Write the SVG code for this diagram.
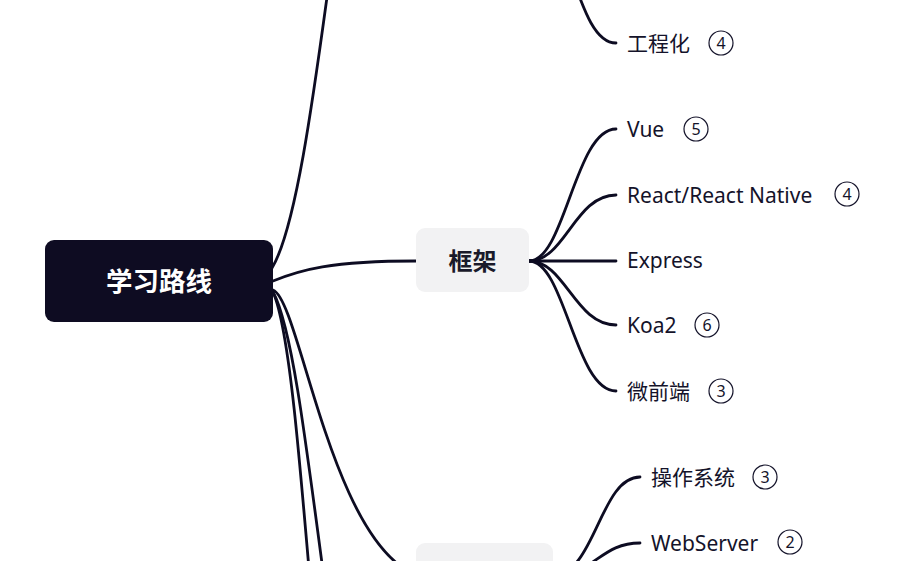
<svg xmlns="http://www.w3.org/2000/svg" width="898" height="561" viewBox="0 0 898 561">
<style>
.ln{fill:none;stroke:#0d0c22;stroke-width:2.8;stroke-linecap:round}
.t{font-family:"Noto Sans","Noto Sans CJK SC",sans-serif;font-size:21px;fill:#14132a}
.num{font-family:"Noto Sans",sans-serif;font-size:16px;fill:#14132a;text-anchor:middle}
.cir{fill:none;stroke:#14132a;stroke-width:1.2}
.root{fill:#0e0c22}
.sub{fill:#f2f2f3}
.rt{font-family:"Noto Sans CJK SC","Noto Sans",sans-serif;font-size:26.5px;font-weight:bold;fill:#ffffff;text-anchor:middle}
.st{font-family:"Noto Sans CJK SC","Noto Sans",sans-serif;font-size:24px;font-weight:bold;fill:#1a1a2a;text-anchor:middle}
</style>
<rect width="898" height="561" fill="#ffffff"/>
<g id="connectors">
<path class="ln" d="M272,268 C295,230 312,110 332,-40"/>
<path class="ln" d="M273,281 C300,270 330,261 416,261"/>
<path class="ln" d="M273,292 C290,330 300,460 320,700"/>
<path class="ln" d="M273,292 C294,330 308,460 340,700"/>
<path class="ln" d="M273,290 C300,300 330,540 416,575"/>
<path class="ln" d="M529,-87 C570,-87 575,43 616,43"/>
<path class="ln" d="M529,261 C565,261 575,129 616,129"/>
<path class="ln" d="M529,261 C565,261 575,195 616,195"/>
<path class="ln" d="M529,261 L616,261"/>
<path class="ln" d="M529,261 C565,261 575,325 616,325"/>
<path class="ln" d="M529,261 C565,261 575,391 616,391"/>
<path class="ln" d="M553,575 C595,575 600,477 640,477"/>
<path class="ln" d="M553,575 C595,575 600,543 640,543"/>
</g>
<g id="root">
<rect class="root" x="45" y="240" width="228" height="82" rx="9"/>
<text class="rt" x="159" y="291">学习路线</text>
</g>
<g id="n-kuangjia">
<rect class="sub" x="416" y="228" width="113" height="64" rx="9"/>
<text class="st" x="472.5" y="269.5">框架</text>
</g>
<g id="n-bottom">
<rect class="sub" x="416" y="543" width="137" height="64" rx="9"/>
</g>
<g id="n-gongchenghua">
<text class="t" x="627" y="50.5">工程化</text>
<circle class="cir" cx="721" cy="43" r="12"/><text class="num" x="721" y="48.5">4</text>
</g>
<g id="n-vue">
<text class="t" x="627" y="136.5">Vue</text>
<circle class="cir" cx="696" cy="129" r="12"/><text class="num" x="696" y="134.5">5</text>
</g>
<g id="n-react">
<text class="t" x="627" y="202.5">React/React Native</text>
<circle class="cir" cx="847" cy="194" r="12"/><text class="num" x="847" y="199.5">4</text>
</g>
<g id="n-express">
<text class="t" x="627" y="267.5">Express</text>
</g>
<g id="n-koa2">
<text class="t" x="627" y="332.5">Koa2</text>
<circle class="cir" cx="707" cy="325" r="12"/><text class="num" x="707" y="330.5">6</text>
</g>
<g id="n-weiqianduan">
<text class="t" x="627" y="398.5">微前端</text>
<circle class="cir" cx="721" cy="391" r="12"/><text class="num" x="721" y="396.5">3</text>
</g>
<g id="n-os">
<text class="t" x="651" y="484.5">操作系统</text>
<circle class="cir" cx="765" cy="477" r="12"/><text class="num" x="765" y="482.5">3</text>
</g>
<g id="n-webserver">
<text class="t" x="651" y="550.5">WebServer</text>
<circle class="cir" cx="790" cy="542" r="12"/><text class="num" x="790" y="547.5">2</text>
</g>
</svg>
